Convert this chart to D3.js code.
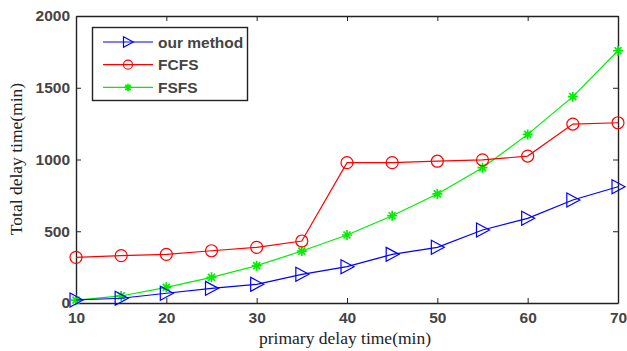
<!DOCTYPE html>
<html>
<head>
<meta charset="utf-8">
<script src="https://cdn.jsdelivr.net/npm/d3@7"></script>
<style>
  body { margin: 0; background: #fff; }
</style>
</head>
<body>
<svg id="chart" width="627" height="351"></svg>
<script>
// data
const delays = [10, 15, 20, 25, 30, 35, 40, 45, 50, 55, 60, 65, 70];
const ourMethod = [21, 33, 68, 102, 130, 200, 253, 339, 388, 509, 590, 718, 810];
const fcfs = [318, 330, 339, 364, 388, 432, 978, 978, 988, 997, 1024, 1247, 1256];
const fsfs = [20, 49, 109, 179, 260, 362, 474, 608, 760, 943, 1175, 1438, 1758];
const xTicks = [10, 20, 30, 40, 50, 60, 70];
const yTicks = [0, 500, 1000, 1500, 2000];
const seriesNames = ["our method", "FCFS", "FSFS"];

const svg = d3.select("#chart");
const plotLeft = 76, plotRight = 618, plotTop = 16, plotBottom = 303;

const x = d3.scaleLinear().domain([10, 70]).range([plotLeft, plotRight]);
const y = d3.scaleLinear().domain([0, 2000]).range([plotBottom, plotTop]);

const series = [
  { name: seriesNames[0], values: ourMethod, color: "#0000ff", marker: "tri" },
  { name: seriesNames[1], values: fcfs, color: "#ff0000", marker: "circle" },
  { name: seriesNames[2], values: fsfs, color: "#00ee00", marker: "star" }
];

const sansFont = "Liberation Sans, Arial, sans-serif";
const serifFont = "Liberation Serif, Times New Roman, serif";

// axes (matlab style: ticks inward, on all four sides)
const tickLen = 5;
svg.append("g").attr("transform", `translate(0,${plotBottom})`)
  .call(d3.axisBottom(x).tickValues(xTicks).tickFormat(d3.format("d"))
    .tickSizeInner(-tickLen).tickSizeOuter(0).tickPadding(9));
svg.append("g").attr("transform", `translate(0,${plotTop})`)
  .call(d3.axisTop(x).tickValues(xTicks).tickSizeInner(-tickLen).tickSizeOuter(0).tickFormat(""));
svg.append("g").attr("transform", `translate(${plotLeft},0)`)
  .call(d3.axisLeft(y).tickValues(yTicks).tickFormat(d3.format("d"))
    .tickSizeInner(-tickLen).tickSizeOuter(0).tickPadding(6));
svg.append("g").attr("transform", `translate(${plotRight},0)`)
  .call(d3.axisRight(y).tickValues(yTicks).tickSizeInner(-tickLen).tickSizeOuter(0).tickFormat(""));

svg.selectAll(".domain").attr("stroke", "#222").attr("stroke-width", 1.4);
svg.selectAll(".tick line").attr("stroke", "#222");
svg.selectAll(".tick text")
  .attr("font-family", sansFont)
  .attr("font-size", 15.5)
  .attr("font-weight", "bold")
  .attr("fill", "#444");

// lines
const line = d3.line().x((d, i) => x(delays[i])).y(d => y(d));

function drawMarker(g, type, color, k) {
  if (type === "tri") {
    g.append("path").attr("d", `M${-6 * k},${-7 * k} L${7 * k},0 L${-6 * k},${7 * k} Z`)
      .attr("fill", "none").attr("stroke", color).attr("stroke-width", 1.2);
  } else if (type === "circle") {
    g.append("circle").attr("r", 6 * k)
      .attr("fill", "none").attr("stroke", color).attr("stroke-width", 1.2);
  } else {
    const a = 5 * k, b = 3.5 * k;
    g.append("path").attr("d", `M${-a},0 L${a},0 M0,${-a} L0,${a} M${-b},${-b} L${b},${b} M${-b},${b} L${b},${-b}`)
      .attr("stroke", color).attr("stroke-width", 1.7);
  }
}

// draw FSFS first, then FCFS, then our method on top
[series[2], series[1], series[0]].forEach(s => {
  svg.append("path").datum(s.values)
    .attr("d", line)
    .attr("fill", "none")
    .attr("stroke", s.color)
    .attr("stroke-width", 1.2);
  svg.append("g").selectAll("g")
    .data(s.values)
    .join("g")
    .attr("transform", (d, i) => `translate(${x(delays[i])},${y(d)})`)
    .each(function () { drawMarker(d3.select(this), s.marker, s.color, 1); });
});

// legend
const legend = svg.append("g");
legend.append("rect")
  .attr("x", 92.5).attr("y", 27.5).attr("width", 155).attr("height", 73)
  .attr("fill", "#fff").attr("stroke", "#222").attr("stroke-width", 1.4);
series.forEach((s, i) => {
  const ly = 42 + i * 22.7;
  legend.append("line").attr("x1", 103).attr("x2", 153).attr("y1", ly).attr("y2", ly)
    .attr("stroke", s.color).attr("stroke-width", 1.2);
  const m = legend.append("g").attr("transform", `translate(128,${ly})`);
  drawMarker(m, s.marker, s.color, 0.75);
  legend.append("text").attr("x", 158).attr("y", ly + 5.5)
    .attr("font-family", sansFont)
    .attr("font-size", 15.5)
    .attr("font-weight", "bold")
    .attr("fill", "#444")
    .text(s.name);
});

// axis titles
svg.append("text")
  .attr("x", 345).attr("y", 344)
  .attr("text-anchor", "middle")
  .attr("font-family", serifFont)
  .attr("font-size", 17.5)
  .attr("fill", "#222")
  .text("primary delay time(min)");
svg.append("text")
  .attr("transform", `translate(22,159) rotate(-90)`)
  .attr("text-anchor", "middle")
  .attr("font-family", serifFont)
  .attr("font-size", 17.5)
  .attr("fill", "#222")
  .text("Total delay time(min)");
</script>
</body>
</html>
